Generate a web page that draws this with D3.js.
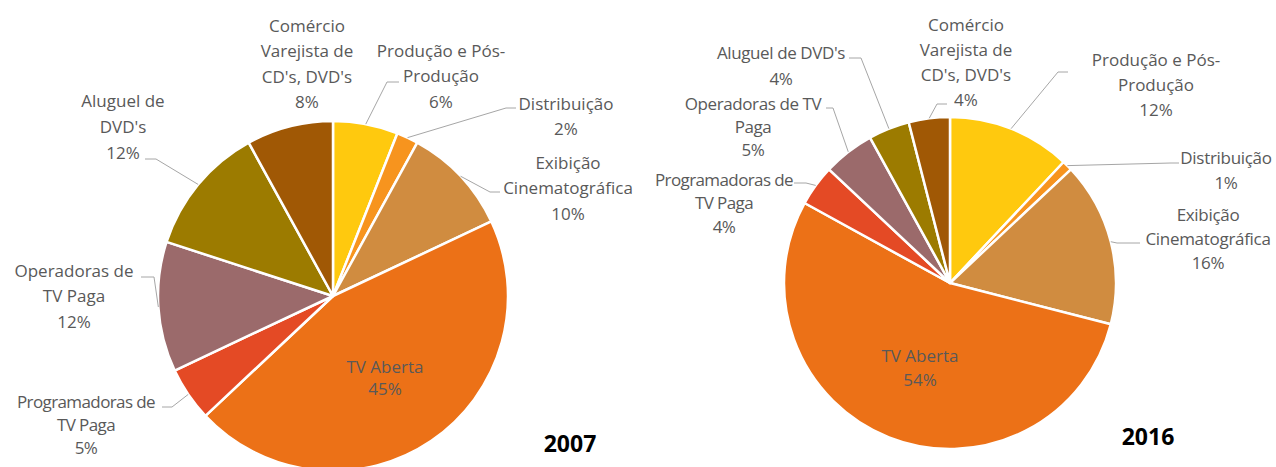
<!DOCTYPE html>
<html><head><meta charset="utf-8">
<script src="https://cdn.jsdelivr.net/npm/d3@7"></script>
<style>
html,body{margin:0;padding:0;background:#fff;}
text{font-family:"Open Sans","Noto Sans",sans-serif;}
</style></head>
<body><svg id="c" width="1276" height="467"></svg>
<script>
const categories = ["Produção e Pós-Produção","Distribuição","Exibição Cinematográfica","TV Aberta","Programadoras de TV Paga","Operadoras de TV Paga","Aluguel de DVD's","Comércio Varejista de CD's, DVD's"];
const values2007 = [6,2,10,45,5,12,12,8];
const values2016 = [12,1,16,54,4,5,4,4];
const years = ["2007","2016"];
const colors = ["#FFC90E","#F7941E","#D08C40","#EC7117","#E44A25","#9B6A6B","#9C7B00","#A05805"];

// label line-breaks (layout)
const lines2007 = [["Produção e Pós-","Produção"],["Distribuição"],["Exibição","Cinematográfica"],["TV Aberta"],["Programadoras de","TV Paga"],["Operadoras de","TV Paga"],["Aluguel de","DVD's"],["Comércio","Varejista de","CD's, DVD's"]];
const lines2016 = [["Produção e Pós-","Produção"],["Distribuição"],["Exibição","Cinematográfica"],["TV Aberta"],["Programadoras de","TV Paga"],["Operadoras de TV","Paga"],["Aluguel de DVD's"],["Comércio","Varejista de","CD's, DVD's"]];

const charts = [
  {values: values2007, lines: lines2007, year: years[0], cx:333, cy:296, r:175, lh:25.5, yearPos:[570,452],
   lab:[{x:441,y:51,el:[387,82],end:[399,82]},
        {x:566,y:104,el:[506,108],end:[516,108]},
        {x:568,y:163,el:[490,192],end:[500,192]},
        {x:385,y:367,lh:22},
        {x:86,y:402,el:[172,407],end:[162,407],lh:23,ls:-0.6},
        {x:74,y:271,el:[154,277],end:[141,277]},
        {x:123,y:101,el:[156,159],end:[145,159],lh:26},
        {x:307,y:26}]},
  {values: values2016, lines: lines2016, year: years[1], cx:950, cy:283, r:166, lh:25, yearPos:[1148,445],
   lab:[{x:1156,y:60,el:[1058,72],end:[1068,72]},
        {x:1226,y:158,el:[1171,163],end:[1179,163],ls:-0.3},
        {x:1208,y:215,el:[1117,243],end:[1140,243],lh:24,ls:-0.3},
        {x:920,y:356,lh:24},
        {x:724,y:180,el:[806,183],end:[794,183],lh:23.5,ls:-0.6},
        {x:753,y:104,el:[833,108],end:[826,108],lh:23,ls:-0.4},
        {x:781,y:53,el:[861,58],end:[849,58],lh:26,ls:-0.4},
        {x:966,y:25,el:[937,104],end:[947,104]}]}
];

const svg = d3.select("#c");
const pct = d3.format(".0%");

charts.forEach(ch => {
  const total = d3.sum(ch.values);
  const pie = d3.pie().sort(null).value(d=>d)(ch.values);
  const arc = d3.arc().innerRadius(0).outerRadius(ch.r);
  const g = svg.append("g").attr("transform",`translate(${ch.cx},${ch.cy})`);
  g.selectAll("path").data(pie).join("path")
    .attr("d",arc).attr("fill",(d,i)=>colors[i])
    .attr("stroke","#fff").attr("stroke-width",2.5).attr("stroke-linejoin","round");

  // leader lines
  pie.forEach((d,i)=>{
    const L = ch.lab[i];
    if(!L.el) return;
    const a = (d.startAngle+d.endAngle)/2;
    const sx = ch.cx + ch.r*Math.sin(a), sy = ch.cy - ch.r*Math.cos(a);
    svg.append("polyline")
      .attr("points",`${sx},${sy} ${L.el[0]},${L.el[1]} ${L.end[0]},${L.end[1]}`)
      .attr("fill","none").attr("stroke","#A6A6A6").attr("stroke-width",1);
  });

  // labels
  pie.forEach((d,i)=>{
    const L = ch.lab[i];
    const lh = L.lh || ch.lh;
    const ls = ch.lines[i].concat([pct(d.value/total)]);
    const t = svg.append("text").attr("text-anchor","middle")
      .attr("fill","#595959").attr("font-size",17)
      .attr("letter-spacing", L.ls || 0);
    ls.forEach((s,k)=>{
      t.append("tspan").attr("x",L.x).attr("y",L.y + k*lh).attr("dy","0.35em").text(s);
    });
  });

  svg.append("text").attr("x",ch.yearPos[0]).attr("y",ch.yearPos[1])
    .attr("text-anchor","middle").attr("font-weight","bold").attr("font-size",23)
    .attr("fill","#000").text(ch.year);
});
</script></body></html>
